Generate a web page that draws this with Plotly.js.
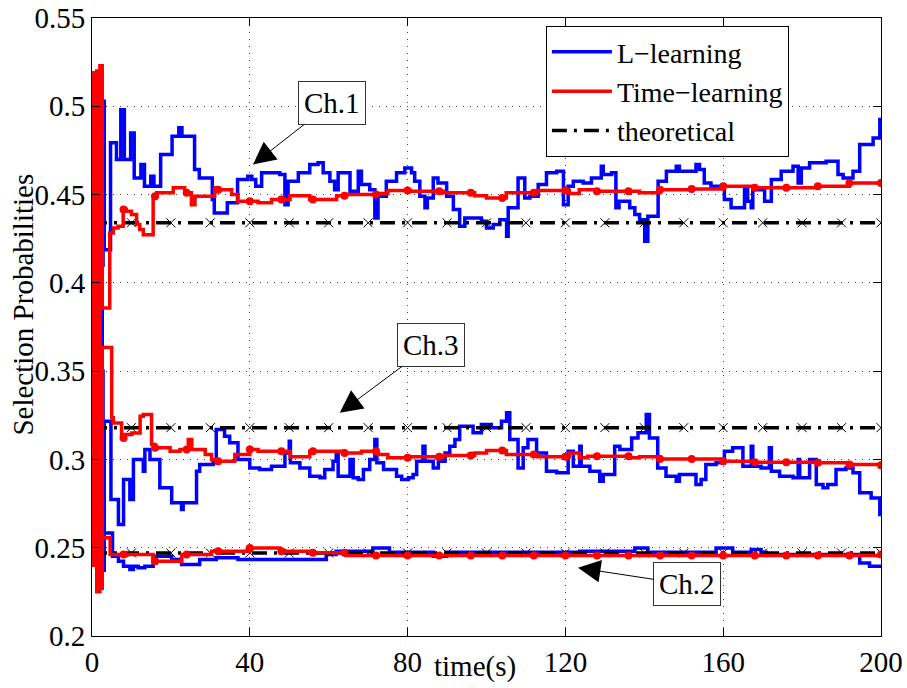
<!DOCTYPE html>
<html>
<head>
<meta charset="utf-8">
<script src="https://cdn.plot.ly/plotly-3.0.1.min.js"></script>
<style>
  html, body { margin: 0; padding: 0; background: #ffffff; }
  #chart { width: 907px; height: 688px; }
  #chart svg text { font-family: "Liberation Serif", "Times New Roman", Times, serif !important; }
</style>
</head>
<body>
<div id="chart"></div>
<script>
// Selection probability of each channel over time: [time (s), probability] step points.

// L-learning
const lCh1 = [[0,0.3333],[2.6,0.41],[2.8,0.5028],[3.1,0.4188],[4.7,0.4794],[6.2,0.4698],[7.3,0.4981],[8.2,0.4698],
  [9.8,0.4849],[10.7,0.4594],[12.4,0.467],[13.3,0.4547],[14.9,0.4604],[15.7,0.4547],[17.4,0.4727],[20.3,0.483],
  [22.0,0.4879],[22.8,0.483],[26.0,0.4642],[27.2,0.4594],[30.5,0.4472],[31.0,0.4396],[34.3,0.4453],[36.9,0.4585],
  [39.5,0.4604],[40.5,0.4585],[41.5,0.4547],[43.0,0.4623],[47.6,0.4613],[48.9,0.4443],[49.7,0.4575],[52.3,0.4623],
  [55.2,0.467],[57.3,0.468],[58.6,0.4623],[60.3,0.4575],[61.5,0.4528],[62.4,0.4623],[65.4,0.4519],[67.5,0.4632],
  [68.3,0.4557],[70.4,0.4528],[71.7,0.4368],[72.5,0.449],[74.6,0.4575],[77.2,0.4623],[79.3,0.4651],[81.0,0.4623],
  [81.8,0.4575],[83.1,0.449],[84.4,0.4425],[85.0,0.4481],[86.5,0.4594],[87.7,0.4566],[89.9,0.449],[91.6,0.4415],
  [93.2,0.4321],[94.5,0.4368],[98.7,0.4349],[100.0,0.4311],[101.7,0.433],[103.4,0.4358],[105.1,0.4264],[105.5,0.4425],
  [108.0,0.4594],[109.7,0.4481],[111.0,0.449],[113.1,0.4557],[115.2,0.4623],[117.8,0.4632],[119.5,0.4443],[120.7,0.4547],
  [122.0,0.4575],[124.5,0.4566],[126.6,0.4594],[129.1,0.466],[129.6,0.4613],[131.7,0.4623],[132.8,0.4425],[133.6,0.4462],
  [136.3,0.4425],[137.6,0.4387],[138.8,0.4358],[140.1,0.4236],[140.9,0.4377],[143.5,0.4575],[145.6,0.4632],[148.1,0.466],
  [148.9,0.4632],[153.1,0.467],[154.0,0.4642],[155.2,0.4566],[156.9,0.4547],[160.3,0.4472],[162.0,0.4425],[165.4,0.4528],
  [166.2,0.4462],[167.1,0.4425],[167.5,0.4528],[170.5,0.4462],[172.2,0.4585],[174.7,0.4632],[177.7,0.466],[179.0,0.4566],
  [179.8,0.4651],[181.9,0.468],[186.1,0.4689],[189.1,0.4613],[190.4,0.4594],[192.9,0.4632],[194.6,0.4783],[198.0,0.4821],
  [199.7,0.4925],[200,0.4925]];

const lCh2 = [[0,0.3333],[2.6,0.24],[2.8,0.2372],[3.1,0.2584],[5.2,0.2452],[6.7,0.2424],[8.0,0.2395],[9.6,0.2377],
  [10.5,0.2395],[11.7,0.2386],[13.4,0.2395],[15.5,0.2452],[20.2,0.2433],[22.7,0.2405],[27.3,0.2433],[31.5,0.2443],
  [37.0,0.2433],[47.6,0.2433],[59.4,0.2462],[61.9,0.248],[71.2,0.2499],[75.4,0.2474],[86.5,0.2452],[89.9,0.2474],
  [123.6,0.248],[137.6,0.2499],[140.9,0.2474],[158.2,0.2499],[162.4,0.2474],[167.1,0.249],[169.6,0.2474],[170.9,0.2462],
  [194.6,0.2414],[197.1,0.2395],[200,0.2395]];

const lCh3 = [[0,0.3333],[2.6,0.35],[2.8,0.26],[3.1,0.3216],[4.8,0.2773],[6.7,0.2631],[8.0,0.2886],[9.6,0.2773],
  [10.5,0.2999],[13.0,0.2933],[13.4,0.3056],[14.7,0.2999],[17.2,0.2839],[20.2,0.2754],[22.7,0.2716],[23.1,0.2754],
  [26.5,0.2933],[27.3,0.2971],[30.7,0.2981],[31.5,0.3169],[33.6,0.3131],[34.9,0.3094],[37.0,0.2999],[40.0,0.2952],
  [42.5,0.2943],[45.5,0.2962],[48.9,0.3037],[50.0,0.3103],[50.3,0.2981],[52.7,0.2952],[55.2,0.2905],[57.8,0.2896],
  [59.0,0.2943],[61.1,0.299],[61.9,0.3037],[62.4,0.2905],[65.4,0.2999],[66.2,0.2896],[67.5,0.2886],[68.8,0.2943],
  [70.4,0.2999],[71.7,0.3113],[72.2,0.2981],[73.9,0.2943],[77.2,0.2905],[78.5,0.2886],[80.2,0.2896],[81.4,0.2914],
  [82.3,0.299],[83.9,0.3075],[84.4,0.299],[86.5,0.2952],[87.8,0.299],[89.5,0.3037],[90.7,0.3075],[92.0,0.3113],
  [93.2,0.3188],[96.6,0.3151],[98.7,0.3198],[101.2,0.3179],[103.8,0.3216],[105.1,0.3264],[105.9,0.3113],[108.0,0.2952],
  [109.3,0.3066],[110.5,0.3113],[112.7,0.3037],[115.2,0.2933],[117.8,0.2924],[120.7,0.3047],[122.0,0.2961],[123.65,0.3075],
  [124.0,0.2961],[126.2,0.2933],[128.7,0.2877],[129.6,0.2914],[132.5,0.3075],[133.8,0.3056],[136.8,0.3122],[138.4,0.3151],
  [140.5,0.3254],[141.3,0.3122],[143.4,0.2952],[145.5,0.2905],[148.1,0.2877],[148.9,0.2914],[153.1,0.2858],[154.4,0.2886],
  [155.6,0.2971],[158.2,0.2981],[160.3,0.3047],[162.4,0.3066],[165.0,0.2961],[167.1,0.3075],[167.5,0.2961],[169.6,0.2952],
  [171.7,0.3066],[172.2,0.2933],[174.3,0.2905],[177.7,0.2896],[179.0,0.3],[179.4,0.2896],[181.9,0.3],[183.6,0.2858],
  [185.3,0.2839],[186.5,0.2858],[188.6,0.2943],[191.1,0.2952],[192.9,0.2924],[194.6,0.2811],[197.5,0.2782],[199.7,0.2688],
  [200,0.2688]];

// Time-learning
const tCh1 = [[0,0.3333],[0.4,0.519],[1.2,0.26],[2.0,0.523],[2.6,0.3858],[4.5,0.4283],[5.4,0.4311],[6.6,0.432],
  [7.9,0.4415],[8.7,0.4405],[10.0,0.4387],[11.3,0.433],[12.1,0.4302],[13.0,0.4273],[15.5,0.449],[16.4,0.451],
  [20.6,0.4538],[23.5,0.451],[25.2,0.4443],[26.1,0.449],[31.1,0.4538],[32.0,0.4528],[35.4,0.45],[37.0,0.4462],
  [42.1,0.4453],[45.5,0.4472],[50.2,0.4494],[55.2,0.4472],[62.0,0.4494],[64.4,0.45],[72.4,0.4506],[75.0,0.4523],
  [80.7,0.4519],[89.0,0.451],[97.0,0.4494],[100.0,0.4481],[105.0,0.451],[113.0,0.4523],[121.0,0.4506],[123.5,0.4528],
  [127.9,0.4519],[138.8,0.451],[144.0,0.4528],[152.0,0.4532],[160.0,0.4547],[168.0,0.4538],[184.0,0.4547],[192.0,0.4566],
  [200,0.4566]];

const tCh2 = [[0,0.3333],[0.4,0.241],[1.2,0.225],[2.0,0.25],[2.6,0.2556],[4.6,0.2462],[15.5,0.2424],[22.7,0.2462],
  [30.3,0.248],[40.0,0.2499],[47.6,0.248],[55.2,0.2471],[64.4,0.2456],[200,0.2462]];

const tCh3 = [[0,0.3333],[0.4,0.24],[1.2,0.52],[2.0,0.227],[2.6,0.3634],[5.0,0.3236],[5.4,0.3207],[7.5,0.3122],
  [8.4,0.3141],[10.1,0.315],[12.2,0.3245],[13.0,0.3254],[15.1,0.3085],[16.0,0.3066],[19.8,0.3047],[22.3,0.3056],
  [24.4,0.3113],[25.3,0.3056],[28.7,0.3028],[30.3,0.2999],[31.6,0.299],[36.2,0.3028],[40.0,0.3056],[42.1,0.3047],
  [50.2,0.3015],[55.2,0.3047],[64.0,0.3037],[68.3,0.3047],[72.4,0.3028],[75.0,0.3009],[80.7,0.3015],[89.0,0.3022],
  [97.0,0.3037],[100.0,0.305],[105.0,0.3028],[113.0,0.3015],[121.0,0.3037],[123.5,0.3009],[125.6,0.3018],[136.3,0.3009],
  [138.8,0.3015],[144.0,0.3003],[160.0,0.299],[168.0,0.2984],[184.0,0.2981],[192.0,0.2971],[200,0.2967]];

// Theoretical selection probabilities: Ch.1, Ch.2, Ch.3
const theoProb = [0.434, 0.247, 0.318];

// Times at which the marker symbols sit
const dotTimes = [0,8,16,24,32,40,48,56,64,72,80,88,96,104,112,120,128,136,144,152,160,168,176,184,192,200];
const crossTimes = [0,10,20,30,40,50,60,70,80,90,100,110,120,130,140,150,160,170,180,190,200];

const timeSpan = [0, 200];
const xTicks = [0, 40, 80, 120, 160, 200];
const yTicks = [0.2, 0.25, 0.3, 0.35, 0.4, 0.45, 0.5, 0.55];
const yTickText = ['0.2', '0.25', '0.3', '0.35', '0.4', '0.45', '0.5', '0.55'];

const FONT = '"Liberation Serif", "Times New Roman", Times, serif';
const BLUE = '#0000ff', RED = '#ff0000', BLACK = '#000000';
const DASHDOT = '15px,7px,3px,7px';

function stepValue(series, t) {
  let v = series[0][1];
  for (const p of series) {
    if (p[0] <= t) v = p[1]; else break;
  }
  return v;
}

const traces = [];

[lCh1, lCh2, lCh3].forEach((s, i) => {
  traces.push({
    x: s.map(p => p[0]), y: s.map(p => p[1]),
    type: 'scatter', mode: 'lines',
    line: { shape: 'hv', color: BLUE, width: 3.5 },
    name: 'L\u2212learning', legendgroup: 'l', legendrank: 1,
    showlegend: i === 0, hoverinfo: 'skip'
  });
});

theoProb.forEach((v, i) => {
  traces.push({
    x: timeSpan, y: timeSpan.map(() => v),
    type: 'scatter', mode: 'lines',
    line: { color: BLACK, width: 3.5, dash: DASHDOT },
    name: 'theoretical', legendgroup: 'th', legendrank: 3,
    showlegend: i === 0, hoverinfo: 'skip'
  });
  traces.push({
    x: crossTimes, y: crossTimes.map(() => v),
    type: 'scatter', mode: 'markers',
    marker: { symbol: 'x-thin', size: 9, line: { color: BLACK, width: 1 } },
    legendgroup: 'th', showlegend: false, hoverinfo: 'skip'
  });
});

[tCh1, tCh2, tCh3].forEach((s, i) => {
  traces.push({
    x: s.map(p => p[0]), y: s.map(p => p[1]),
    type: 'scatter', mode: 'lines',
    line: { shape: 'hv', color: RED, width: 3.5 },
    name: 'Time\u2212learning', legendgroup: 't', legendrank: 2,
    showlegend: i === 0, hoverinfo: 'skip'
  });
  traces.push({
    x: dotTimes, y: dotTimes.map(t => stepValue(s, t)),
    type: 'scatter', mode: 'markers',
    marker: { symbol: 'circle', size: 8, color: RED },
    legendgroup: 't', showlegend: false, hoverinfo: 'skip'
  });
});

const boxNote = (text, x, y, ax, ay) => ({
  text: text, x: x, y: y, ax: ax, ay: ay,
  xref: 'x', yref: 'y', axref: 'x', ayref: 'y',
  showarrow: true, arrowhead: 2, arrowsize: 4.5, arrowwidth: 1, arrowcolor: BLACK,
  font: { family: FONT, size: 29, color: BLACK },
  bgcolor: '#ffffff', bordercolor: '#333333', borderwidth: 1, borderpad: 5
});

const layout = {
  width: 907, height: 688,
  margin: { l: 92, r: 26, t: 18, b: 51.5 },
  paper_bgcolor: '#ffffff', plot_bgcolor: '#ffffff',
  font: { family: FONT, size: 29, color: BLACK },
  showlegend: true,
  xaxis: {
    range: [0, 200], tickvals: xTicks, ticks: 'inside', ticklen: 8, tickwidth: 1, tickcolor: BLACK,
    showline: true, linecolor: BLACK, linewidth: 1, mirror: 'ticks',
    showgrid: true, gridcolor: '#444444', gridwidth: 1, griddash: '1px,6px', zeroline: false,
    tickfont: { family: FONT, size: 29, color: BLACK }
  },
  yaxis: {
    range: [0.2, 0.55], tickvals: yTicks, ticktext: yTickText, ticks: 'inside', ticklen: 8, tickwidth: 1, tickcolor: BLACK,
    showline: true, linecolor: BLACK, linewidth: 1, mirror: 'ticks',
    showgrid: true, gridcolor: '#444444', gridwidth: 1, griddash: '1px,6px', zeroline: false,
    tickfont: { family: FONT, size: 29, color: BLACK }
  },
  legend: {
    x: 0.5753, y: 0.987, xanchor: 'left', yanchor: 'top',
    bgcolor: '#ffffff', bordercolor: BLACK, borderwidth: 1,
    font: { family: FONT, size: 28, color: BLACK },
    itemwidth: 60, tracegroupgap: 0, traceorder: 'normal'
  },
  annotations: [
    boxNote('Ch.1', 40.8, 0.467, 60.8, 0.502),
    boxNote('Ch.3', 62.8, 0.3264, 86.0, 0.365),
    boxNote('Ch.2', 123.2, 0.2386, 150.9, 0.2292),
    {
      text: 'time(s)', xref: 'paper', yref: 'paper', x: 0.4853, y: -0.0495,
      xanchor: 'center', yanchor: 'middle', showarrow: false,
      font: { family: FONT, size: 29, color: BLACK }
    },
    {
      text: 'Selection Probabilities', xref: 'paper', yref: 'paper', x: -0.0877, y: 0.536,
      xanchor: 'center', yanchor: 'middle', textangle: -90, showarrow: false,
      font: { family: FONT, size: 29, color: BLACK }
    }
  ]
};

Plotly.newPlot('chart', traces, layout, { staticPlot: true, displayModeBar: false });
</script>
</body>
</html>
